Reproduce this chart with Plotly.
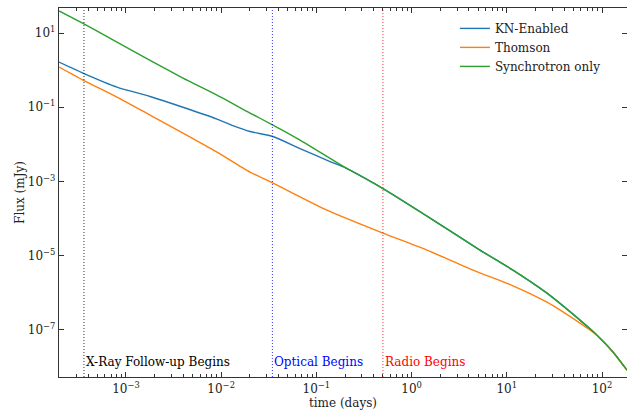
import math
import plotly.graph_objects as go

# ---- data ----
t_sync = [1.98e-4, 3.62e-4, 6.47e-4, 1.79e-3, 3.97e-3, 9.04e-3, 0.0201, 0.0350, 0.0673,
          0.190, 0.501, 1.45, 5.22, 11.6, 26.4, 58.7, 88.5, 131, 183]
f_sync = [39.2, 17.5, 7.75, 1.82, 0.612, 0.213, 0.0698, 0.0331, 0.01306,
          2.60e-3, 6.44e-4, 1.17e-4, 1.42e-5, 4.09e-6, 9.8e-7, 1.84e-7, 7.24e-8, 2.52e-8, 8.24e-9]

t_kn = [1.98e-4, 3.53e-4, 8.04e-4, 1.79e-3, 3.97e-3, 9.04e-3, 0.0133, 0.0201, 0.0350,
        0.0673, 0.139, 0.1995, 0.501, 1.45, 5.22, 11.6, 26.4, 58.7, 88.5, 131, 183]
f_kn = [1.65, 0.836, 0.350, 0.195, 0.100, 0.0480, 0.0320, 0.0222, 0.0163,
        7.71e-3, 3.44e-3, 2.36e-3, 6.44e-4, 1.17e-4, 1.42e-5, 4.09e-6, 9.8e-7, 1.84e-7, 7.24e-8, 2.52e-8, 8.24e-9]

t_th = [1.98e-4, 3.53e-4, 8.04e-4, 1.79e-3, 3.97e-3, 9.04e-3, 0.0201, 0.0350, 0.129,
        0.501, 1.45, 4.42, 11.6, 26.4, 58.7, 88.5, 131, 183]
f_th = [1.21, 0.541, 0.188, 0.0616, 0.0202, 6.19e-3, 1.79e-3, 9.06e-4, 1.69e-4,
        4.06e-5, 1.42e-5, 4.09e-6, 1.55e-6, 5.61e-7, 1.53e-7, 7.24e-8, 2.52e-8, 8.24e-9]

series_names = ["KN-Enabled", "Thomson", "Synchrotron only"]
series_colors = ["#1f77b4", "#ff7f0e", "#2ca02c"]

marker_times = [3.62e-4, 0.0345, 0.50]
marker_labels = ["X-Ray Follow-up Begins", "Optical Begins", "Radio Begins"]
marker_colors = ["black", "blue", "red"]

x_tick_exponents = [-3, -2, -1, 0, 1, 2]
y_tick_exponents = [1, -1, -3, -5, -7]

x_range_days = [1.98e-4, 183]
y_range_mjy = [5.4e-9, 47.2]

FONT = "DejaVu Serif"


def pow_label(e):
    s = str(e).replace("-", "\u2212")
    return "10<sup>" + s + "</sup>"


fig = go.Figure()
for t, f, name, col in zip([t_kn, t_th, t_sync], [f_kn, f_th, f_sync], series_names, series_colors):
    fig.add_trace(go.Scatter(x=t, y=f, mode="lines", name=name,
                             line=dict(color=col, width=1.4, shape="spline", smoothing=0.6)))

for t, lab, col in zip(marker_times, marker_labels, marker_colors):
    fig.add_shape(type="line", xref="x", yref="paper", x0=t, x1=t, y0=0, y1=1,
                  line=dict(color=col, width=1, dash="1px,2px"), opacity=0.8, layer="above")
    fig.add_annotation(x=math.log10(t), y=0.04, xref="x", yref="paper", text=lab,
                       showarrow=False, xanchor="left", yanchor="middle", xshift=0,
                       font=dict(family=FONT, size=12, color=col))

axis_common = dict(type="log", showgrid=False, zeroline=False, showline=True,
                   linecolor="#333", linewidth=1.3, mirror="ticks", ticks="inside",
                   tickcolor="#333", tickwidth=1.2, ticklen=5,
                   tickfont=dict(family=FONT, size=12, color="#222"))

fig.update_xaxes(**axis_common,
                 range=[math.log10(x_range_days[0]), math.log10(x_range_days[1])],
                 tickmode="array",
                 tickvals=[10 ** e for e in x_tick_exponents],
                 ticktext=[pow_label(e) for e in x_tick_exponents],
                 minor=dict(ticks="inside", ticklen=3, tickcolor="#333", tickwidth=1, dtick="D1"),
                 title=dict(text="time (days)", font=dict(family=FONT, size=12, color="#222"), standoff=2))
fig.update_yaxes(**axis_common,
                 range=[math.log10(y_range_mjy[0]), math.log10(y_range_mjy[1])],
                 tickmode="array",
                 tickvals=[10 ** e for e in y_tick_exponents],
                 ticktext=[pow_label(e) for e in y_tick_exponents],
                 title=dict(text="Flux (mJy)", font=dict(family=FONT, size=12, color="#222"), standoff=0))

fig.update_layout(
    width=627, height=415,
    margin=dict(l=59, r=0, t=8, b=38),
    plot_bgcolor="white", paper_bgcolor="white",
    font=dict(family=FONT, size=12, color="#222"),
    legend=dict(x=0.697, y=0.984, xanchor="left", yanchor="top",
                bgcolor="rgba(0,0,0,0)", font=dict(family=FONT, size=12, color="#222"),
                tracegroupgap=0),
)

fig.write_html("out.html")
